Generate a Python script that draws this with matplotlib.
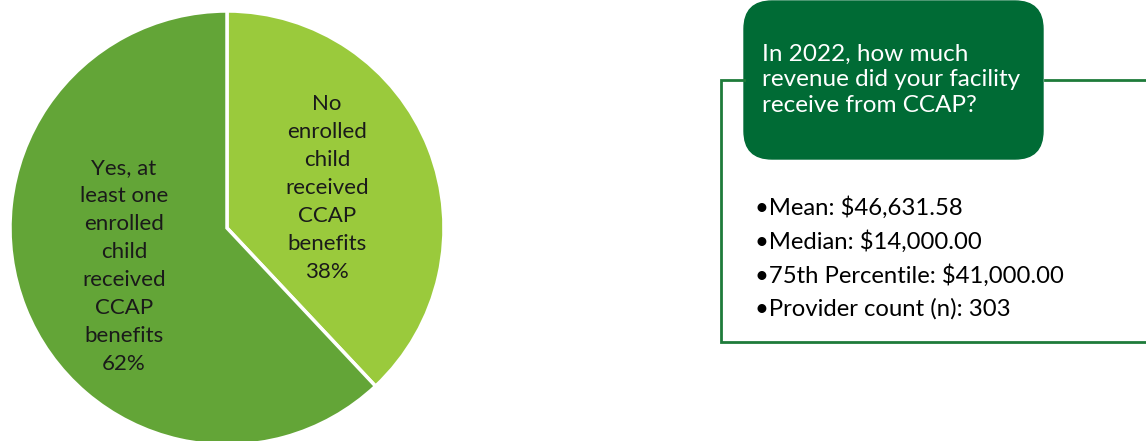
import matplotlib.pyplot as plt
from matplotlib.patches import FancyBboxPatch

plt.rcParams['font.family'] = ['Lato', 'DejaVu Sans']

# data
labels = ['No\nenrolled\nchild\nreceived\nCCAP\nbenefits', 'Yes, at\nleast one\nenrolled\nchild\nreceived\nCCAP\nbenefits']
shares = [38, 62]
colors = ['#9ACA3C', '#63A537']
question = 'In 2022, how much\nrevenue did your facility\nreceive from CCAP?'
stats_lines = ['Mean: $46,631.58', 'Median: $14,000.00',
               '75th Percentile: $41,000.00', 'Provider count (n): 303']

W, H = 1146, 441
fig = plt.figure(figsize=(W / 100, H / 100), dpi=100)

# pie: centre (227, 228) px, radius 217 px
cx, cy, r = 227, 228, 217
ax = fig.add_axes([(cx - r) / W, (H - cy - r) / H, 2 * r / W, 2 * r / H])
wedges, _ = ax.pie(shares, colors=colors, startangle=90, counterclock=False,
                   radius=1, wedgeprops=dict(edgecolor='white', linewidth=2.5))
ax.set_xlim(-1, 1)
ax.set_ylim(-1, 1)
ax.set_aspect('equal')
ax.axis('off')

label_pos = [(0.46, 0.185), (-0.475, -0.175)]
for lab, s, (x, y) in zip(labels, shares, label_pos):
    ax.text(x, y, f'{lab}\n{s}%', ha='center', va='center', fontsize=16,
            linespacing=1.5, color='#1a1a1a')

# right panel in pixel coords
ov = fig.add_axes([0, 0, 1, 1])
ov.set_xlim(0, W)
ov.set_ylim(H, 0)
ov.axis('off')

line_c = '#1E7B3A'
ov.plot([744, 721, 721, W], [80, 80, 342, 342], color=line_c, lw=2, solid_joinstyle='miter')
ov.plot([1045, W], [80, 80], color=line_c, lw=2)

box = FancyBboxPatch((744 + 28, 1 + 28), 299 - 56, 158 - 56,
                     boxstyle='round,pad=28', fc='#006B35', ec='#006B35', lw=1)
ov.add_patch(box)
ov.text(762, 80, question, ha='left', va='center', color='white',
        fontsize=17.5, linespacing=1.25)

for i, s in enumerate(stats_lines):
    ov.text(755, 208 + i * 33.7, '\u2022' + s, ha='left', va='center',
            fontsize=17.2, color='black')

fig.savefig('out.png', dpi=100)
